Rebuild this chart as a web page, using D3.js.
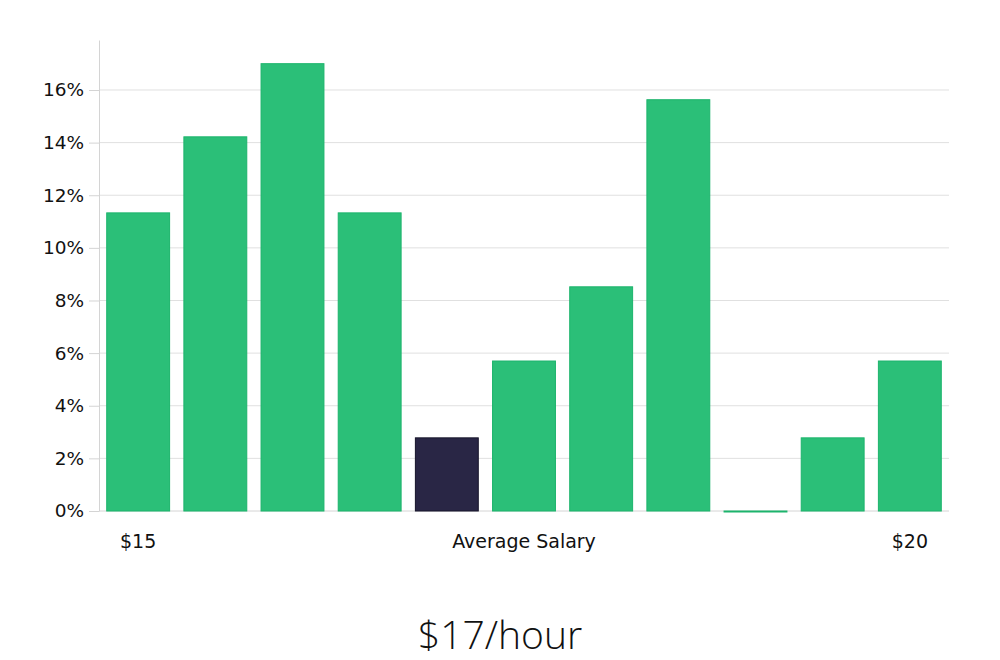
<!DOCTYPE html>
<html>
<head>
<meta charset="utf-8">
<script src="https://cdn.jsdelivr.net/npm/d3@7"></script>
<style>
  body { margin: 0; background: #fff; }
  svg text { font-family: "DejaVu Sans", sans-serif; }
</style>
</head>
<body>
<div id="chart"></div>
<script>
// share of salaries per bin (%)
var bins = ["b1", "b2", "b3", "b4", "b5", "b6", "b7", "b8", "b9", "b10", "b11"];
var shares = [11.33, 14.22, 17.0, 11.33, 2.78, 5.7, 8.52, 15.63, 0, 2.78, 5.7];
var binLabels = ["$15", "", "", "", "", "Average Salary", "", "", "", "", "$20"];
var highlight = "b5";
var yTicks = [0, 2, 4, 6, 8, 10, 12, 14, 16];
var title = "$17/hour";

var width = 1000, height = 660;
var margin = {top: 40, right: 51, bottom: 149, left: 99};

var svg = d3.select("#chart").append("svg")
    .attr("width", width)
    .attr("height", height);

var x = d3.scaleBand()
    .domain(bins)
    .range([margin.left, width - margin.right])
    .paddingInner(0.185)
    .paddingOuter(0.1);

var y = d3.scaleLinear()
    .domain([0, 17.9])
    .range([height - margin.bottom, margin.top]);

// gridlines
svg.append("g")
  .selectAll("line")
  .data(yTicks.slice(1))
  .enter().append("line")
    .attr("x1", margin.left)
    .attr("x2", width - margin.right)
    .attr("y1", function(d) { return y(d); })
    .attr("y2", function(d) { return y(d); })
    .attr("stroke", "#e0e0e0")
    .attr("stroke-width", 1);

// y axis
var yAxis = d3.axisLeft(y)
    .tickValues(yTicks)
    .tickSizeInner(10)
    .tickSizeOuter(0)
    .tickPadding(5)
    .tickFormat(function(d) { return d + "%"; });

var gy = svg.append("g")
    .attr("transform", "translate(" + margin.left + ",0)")
    .call(yAxis);
gy.select(".domain").attr("stroke", "#d4d4d4");
gy.selectAll(".tick line").attr("stroke", "#d4d4d4");
gy.selectAll(".tick text")
    .attr("font-size", 18.5)
    .attr("fill", "#111")
    .attr("font-family", "DejaVu Sans, sans-serif");

// baseline
svg.append("line")
    .attr("x1", margin.left)
    .attr("x2", width - margin.right)
    .attr("y1", y(0))
    .attr("y2", y(0))
    .attr("stroke", "#d4d4d4");

// bars
svg.append("g")
  .selectAll("rect")
  .data(bins)
  .enter().append("rect")
    .attr("x", function(d) { return x(d); })
    .attr("width", x.bandwidth())
    .attr("y", function(d, i) { return y(shares[i]); })
    .attr("height", function(d, i) { return Math.max(1, y(0) - y(shares[i])); })
    .attr("fill", function(d) { return d === highlight ? "#292645" : "#2bbf78"; })
    .attr("stroke", function(d) { return d === highlight ? "#16142a" : "#1cb46c"; })
    .attr("stroke-width", 1);

// x labels
svg.append("g")
  .selectAll("text")
  .data(bins)
  .enter().append("text")
    .attr("x", function(d) { return x(d) + x.bandwidth() / 2; })
    .attr("y", 548)
    .attr("text-anchor", "middle")
    .attr("font-size", 19)
    .attr("fill", "#111")
    .text(function(d, i) { return binLabels[i]; });

// title
svg.append("text")
    .attr("x", width / 2)
    .attr("y", 649)
    .attr("text-anchor", "middle")
    .attr("font-size", 39)
    .attr("font-weight", 300)
    .style("font-family", "'Open Sans', sans-serif")
    .attr("fill", "#111")
    .text(title);
</script>
</body>
</html>
